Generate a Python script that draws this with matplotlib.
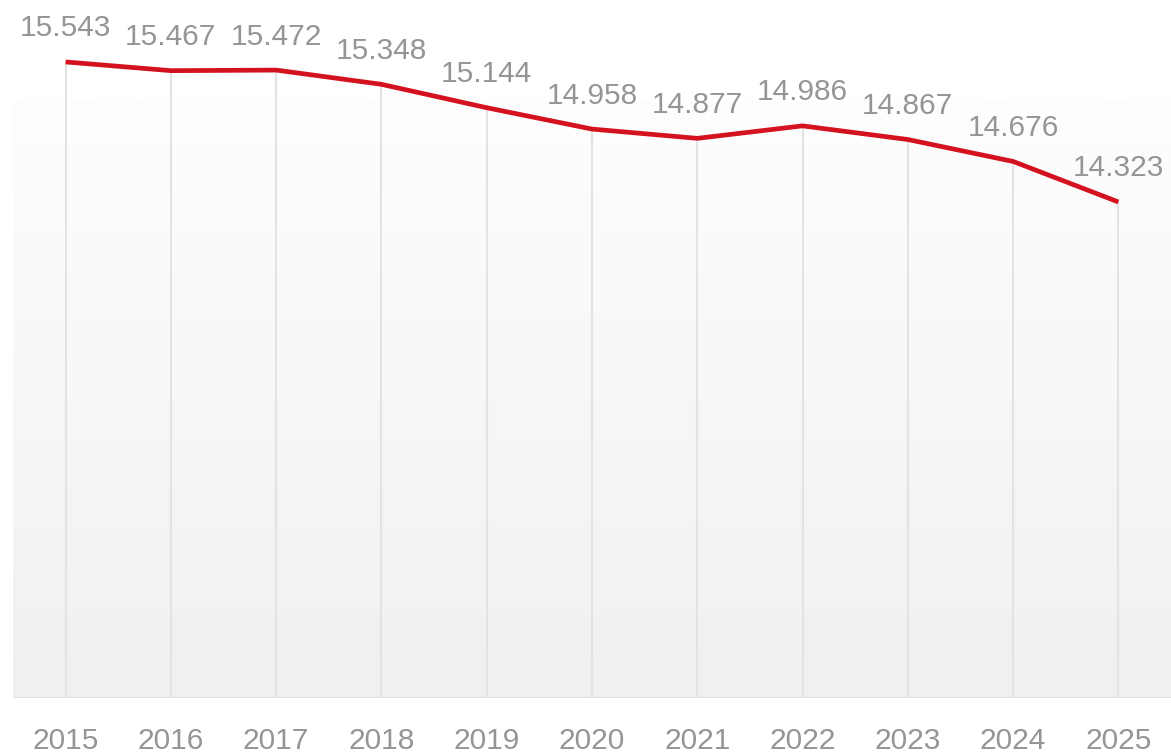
import numpy as np
import matplotlib as mpl
import matplotlib.pyplot as plt
from matplotlib.colors import LinearSegmentedColormap

years = ["2015", "2016", "2017", "2018", "2019", "2020",
         "2021", "2022", "2023", "2024", "2025"]
values = [15.543, 15.467, 15.472, 15.348, 15.144, 14.958,
          14.877, 14.986, 14.867, 14.676, 14.323]

RED = "#d4121f"
TEXT = "#959595"
GRID = "#e3e3e3"

mpl.rcParams.update({
    "font.family": ["Liberation Sans", "DejaVu Sans"],
    "font.size": 21.5,
})

fig = plt.figure(figsize=(11.71, 7.53), dpi=100)
ax = fig.add_axes([13 / 1171, 1 - 698 / 753, 1 - 13 / 1171, 688.5 / 753])

x = np.arange(len(years))
ax.set_xlim(-0.5, len(years) - 0.5)
ax.set_ylim(10, 16)

# soft vertical gradient panel behind the plot
cmap = LinearSegmentedColormap.from_list("bg", ["#f0f0f0", "#fefefe"])
grad = np.linspace(0, 1, 256).reshape(-1, 1)
ax.imshow(grad, cmap=cmap, aspect="auto", origin="lower",
          extent=[-0.5, len(years) - 0.5, 10, 15.2], zorder=0)

# drop lines from each point to the baseline
ax.vlines(x, 10, values, color=GRID, lw=1.5, zorder=1)
ax.axhline(10, color=GRID, lw=1.5, zorder=1)

ax.plot(x, values, color=RED, lw=3.4, solid_capstyle="butt",
        solid_joinstyle="round", zorder=3)

for xi, v in zip(x, values):
    ax.annotate(f"{v:.3f}", (xi, v), xytext=(0, 14), textcoords="offset points",
                ha="center", va="bottom", color=TEXT)

ax.set_xticks(x)
ax.set_xticklabels(years, color=TEXT)
ax.tick_params(axis="x", length=0, pad=21)
ax.set_yticks([])
for s in ax.spines.values():
    s.set_visible(False)
ax.set_facecolor("white")

fig.savefig("out.png", dpi=100, facecolor="white")
